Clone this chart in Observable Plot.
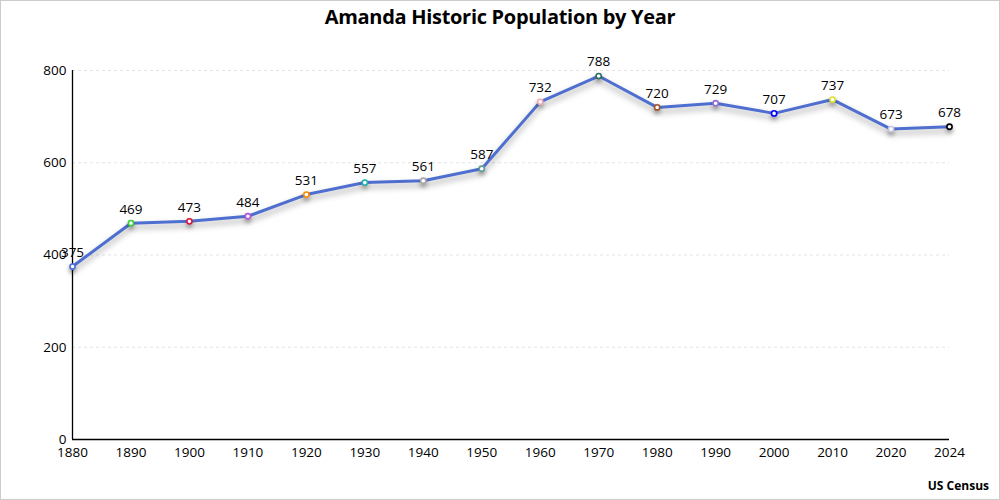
<!DOCTYPE html>
<html>
<head>
<meta charset="utf-8">
<script src="https://cdn.jsdelivr.net/npm/d3@7"></script>
<script src="https://cdn.jsdelivr.net/npm/@observablehq/plot@0.6"></script>
<style>
  html, body { margin: 0; padding: 0; background: #fff; }
  #wrap { width: 998px; height: 498px; border: 1px solid #cccccc; position: relative; font-family: "Open Sans", "Noto Sans", sans-serif; }
  #title { height: 34px; line-height: 32px; text-align: center; font-weight: bold; font-size: 20px; color: #000; letter-spacing: -0.3px; }
  #caption { position: absolute; right: 10px; bottom: 5px; font-weight: bold; font-size: 12px; color: #000; }
</style>
</head>
<body>
<div id="wrap">
  <div id="title">Amanda Historic Population by Year</div>
  <div id="chart"></div>
  <div id="caption">US Census</div>
</div>
<script>
const years = ["1880","1890","1900","1910","1920","1930","1940","1950","1960","1970","1980","1990","2000","2010","2020","2024"];
const population = [375,469,473,484,531,557,561,587,732,788,720,729,707,737,673,678];
const pointColors = ["#4a6fd6","#32cd32","#dc143c","#ba55d3","#ff8c00","#20b2aa","#a9a9a9","#5f9ea0","#f0a8b4","#2e6f62","#a0522d","#9370db","#0000ff","#e0e030","#c8c8e6","#000000"];
const yTicks = [0,200,400,600,800];

const data = years.map((y, i) => ({year: y, pop: population[i], color: pointColors[i]}));

const plot = Plot.plot({
  width: 998,
  height: 432,
  marginTop: 35,
  marginBottom: 28,
  marginLeft: 71,
  marginRight: 50,
  style: {fontFamily: "'Open Sans', 'Noto Sans', sans-serif", fontSize: "13.5px", color: "#000", background: "#fff"},
  x: {type: "point", domain: years, padding: 0, round: false, label: null, tickSize: 0, tickPadding: 8},
  y: {domain: [0, 800], ticks: yTicks, label: null, tickSize: 0, tickPadding: 6},
  marks: [
    Plot.gridY(yTicks.filter(d => d > 0), {stroke: "#e3e3e3", strokeOpacity: 1, strokeDasharray: "3,3"}),
    Plot.ruleX([years[0]], {stroke: "#000", strokeWidth: 1.3}),
    Plot.ruleY([0], {stroke: "#000", strokeWidth: 1.3}),
    Plot.line(data, {x: "year", y: "pop", stroke: "#4f6fd0", strokeWidth: 3}),
    Plot.dot(data, {x: "year", y: "pop", r: 2.6, fill: "#fff", stroke: "color", strokeWidth: 1.6}),
    Plot.text(data, {x: "year", y: "pop", text: d => String(d.pop), dy: -14, fill: "#000", fontSize: 13.5})
  ]
});

d3.select(plot).selectAll('g[aria-label="line"]').style("filter", "drop-shadow(0px 4px 3px rgba(0,0,0,0.35))");
d3.select(plot).selectAll('g[aria-label="dot"]').style("filter", "drop-shadow(0px 3px 2px rgba(0,0,0,0.35))");
document.getElementById("chart").appendChild(plot);
</script>
</body>
</html>
